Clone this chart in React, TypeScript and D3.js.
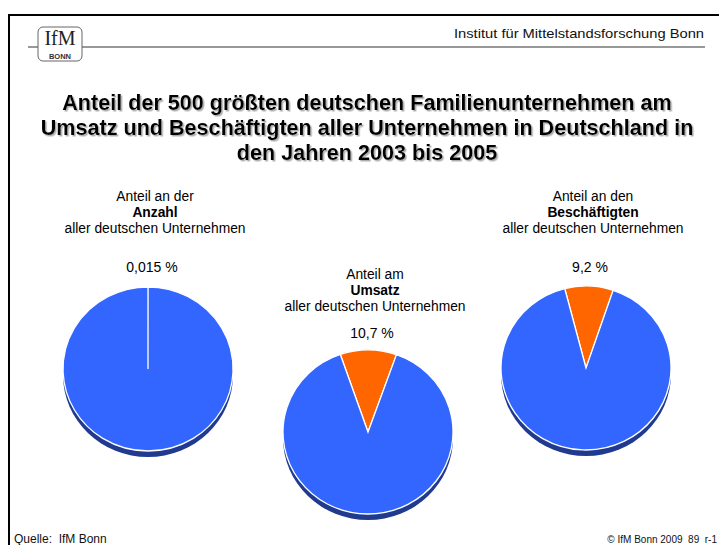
import React from 'react';
import * as d3 from 'd3';

// chart values
const pieNames = ['Anzahl', 'Umsatz', 'Beschäftigten'];
const pieHeads = ['Anteil an der', 'Anteil am', 'Anteil an den'];
const pieShares = [0.015, 10.7, 9.2];
const pieLabels = ['0,015 %', '10,7 %', '9,2 %'];
const pieRotation = [0, -19, -14.5]; // degrees where the share slice starts

const titleLines = [
  'Anteil der 500 größten deutschen Familienunternehmen am',
  'Umsatz und Beschäftigten aller Unternehmen in Deutschland in',
  'den Jahren 2003 bis 2005',
];

const W = 719, H = 545;
const BLUE = '#3366ff', ORANGE = '#ff6600', SHADOW = '#1f3a8f';
const font = 'Liberation Sans, Arial, sans-serif';

// pie placement
const centers = [
  { x: 148, y: 369, head: 196, lab: 272 },
  { x: 368, y: 432, head: 274, lab: 338 },
  { x: 586, y: 368, head: 196, lab: 272 },
];
const rx = 85, ry = 82, depth = 6;

const arc = d3.arc<d3.PieArcDatum<number>>().innerRadius(0).outerRadius(rx);

function Pie({ i }: { i: number }) {
  const c = centers[i];
  const off = (pieRotation[i] * Math.PI) / 180;
  const slices = d3.pie<number>().sort(null).startAngle(off).endAngle(off + 2 * Math.PI)(
    [pieShares[i], 100 - pieShares[i]]
  );
  const k = ry / rx;
  return (
    <g>
      <text textAnchor="middle" fontFamily={font} fontSize={13.8} fill="#000">
        <tspan x={c.x + 7} y={c.head + 5}>{pieHeads[i]}</tspan>
        <tspan x={c.x + 7} y={c.head + 21} fontWeight="bold">{pieNames[i]}</tspan>
        <tspan x={c.x + 7} y={c.head + 37}>aller deutschen Unternehmen</tspan>
      </text>
      <text x={c.x + 4} y={c.lab} textAnchor="middle" fontFamily={font} fontSize={14}>
        {pieLabels[i]}
      </text>
      <ellipse cx={c.x} cy={c.y + depth} rx={rx} ry={ry} fill={SHADOW} />
      <g transform={`translate(${c.x},${c.y}) scale(1,${k})`}>
        {slices.map((s, j) => (
          <path
            key={j}
            d={arc(s) || ''}
            fill={j === 0 ? ORANGE : BLUE}
            stroke="#fff"
            strokeWidth={1.3}
            vectorEffect="non-scaling-stroke"
          />
        ))}
      </g>
    </g>
  );
}

export default function App() {
  return (
    <svg width={W} height={H} style={{ position: 'absolute', left: 0, top: 0, background: '#fff' }}>
      <defs>
        <filter id="tshadow" x="-5%" y="-20%" width="110%" height="150%">
          <feDropShadow dx="1.5" dy="1.5" stdDeviation="0.6" floodColor="#999" floodOpacity="0.8" />
        </filter>
      </defs>
      {/* slide frame */}
      <line x1={8} x2={W} y1={15} y2={15} stroke="#000" strokeWidth={2} />
      <line x1={9} x2={9} y1={14} y2={H} stroke="#000" strokeWidth={2} />

      {/* header */}
      <line x1={28} x2={705} y1={47} y2={47} stroke="#333" strokeWidth={1} />
      <rect x={38} y={27} width={44} height={34} rx={5} fill="#fff" stroke="#666" strokeWidth={1} />
      <text x={60} y={45} textAnchor="middle" fontFamily="Liberation Serif, DejaVu Serif, serif" fontSize={20} fill="#222">
        IfM
      </text>
      <text x={60} y={58.5} textAnchor="middle" fontFamily={font} fontWeight="bold" fontSize={7.5} fill="#333">
        BONN
      </text>
      <text x={704} y={38} textAnchor="end" fontFamily={font} fontSize={13} fill="#111"
        textLength={250} lengthAdjust="spacingAndGlyphs">
        Institut für Mittelstandsforschung Bonn
      </text>

      {/* title */}
      <g filter="url(#tshadow)">
        {titleLines.map((t, i) => (
          <text key={i} x={367} y={110 + i * 25} textAnchor="middle" fontFamily={font} fontWeight="bold" fontSize={21.6} fill="#000">
            {t}
          </text>
        ))}
      </g>

      {pieShares.map((_, i) => (
        <Pie key={i} i={i} />
      ))}

      {/* footer */}
      <text x={14} y={543} fontFamily={font} fontSize={12} fill="#111" xmlSpace="preserve">
        Quelle:  IfM Bonn
      </text>
      <text x={717} y={543} textAnchor="end" fontFamily={font} fontSize={10} fill="#111" xmlSpace="preserve">
        © IfM Bonn 2009  89  r-1
      </text>
    </svg>
  );
}
